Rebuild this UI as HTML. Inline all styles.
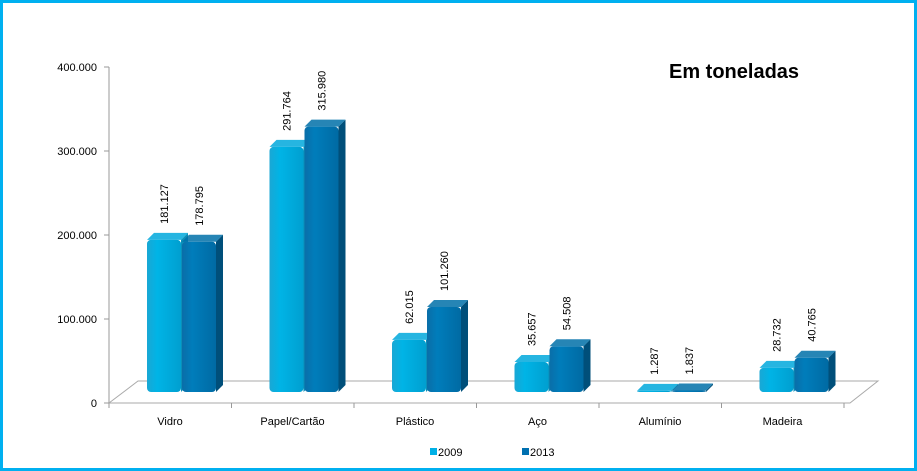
<!DOCTYPE html>
<html><head><meta charset="utf-8"><style>
body{margin:0;background:#fff}
svg{display:block;font-family:"Liberation Sans",sans-serif}
</style></head><body>
<svg width="917" height="471">
<defs>
<linearGradient id="g1" x1="0" x2="1"><stop offset="0" stop-color="#1aa7d4"/><stop offset="0.3" stop-color="#00b4e6"/><stop offset="1" stop-color="#009fd0"/></linearGradient>
<linearGradient id="g2" x1="0" x2="1"><stop offset="0" stop-color="#0a6ea8"/><stop offset="0.3" stop-color="#007dbb"/><stop offset="1" stop-color="#006aa3"/></linearGradient>
</defs>
<rect x="1.5" y="1.5" width="914" height="468" fill="#fff" stroke="#00b0f0" stroke-width="3"/>
<text x="669" y="78" font-size="20" font-weight="bold" fill="#000">Em toneladas</text>
<g id="axes"></g>
<g id="bars"></g>
<g id="legend"></g>
</svg>
<script>
const categories=["Vidro","Papel/Cartão","Plástico","Aço","Alumínio","Madeira"];
const values2009=[181127,291764,62015,35657,1287,28732];
const values2013=[178795,315980,101260,54508,1837,40765];
const yTicks=[0,100000,200000,300000,400000];
const tickLabels=["0","100.000","200.000","300.000","400.000"];
const NS="http://www.w3.org/2000/svg";
function mk(t,a,p){const e=document.createElementNS(NS,t);for(const k in a)e.setAttribute(k,a[k]);p.appendChild(e);return e;}
const yAxis=v=>403-v*84/100000;
const barBase=392;
const hScale=v=>v*0.84/1000;
const catX=i=>170+i*122.5;
const ax=document.getElementById('axes');
let l=mk('line',{x1:109,y1:67,x2:109,y2:403,stroke:'#999'},ax);


mk('polyline',{points:'109,403 138,381 878,381 850,403 109,403',fill:'none',stroke:'#aaa'},ax);
yTicks.forEach((v,i)=>{
  mk('line',{x1:104,y1:yAxis(v),x2:109,y2:yAxis(v),stroke:'#999'},ax);
  const t=mk('text',{x:97,y:yAxis(v)+4,'font-size':11,'text-anchor':'end',fill:'#000'},ax);
  t.textContent=tickLabels[i];
  
  
});
for(let i=0;i<=categories.length;i++){const x=109+i*122.5;mk('line',{x1:x,y1:403,x2:x,y2:408,stroke:'#999'},ax);}
categories.forEach((c,i)=>{
  const t=mk('text',{x:catX(i)+(i==0?0:0),y:425,'font-size':11,'text-anchor':'middle',fill:'#000'},ax);
  t.textContent=c;
  
  
});
const bg=document.getElementById('bars');
function bar(x,v,fill,side,name,label){
  const w=34,d=7,h=Math.max(hScale(v),0);
  const top=barBase-h;
  const g=mk('g',{},bg);
  
  
  mk('path',{d:`M${x+w} ${top} l${d} -${d} v${h} l-${d} ${d} z`,fill:side},g);
  mk('path',{d:`M${x} ${top} l${d} -${d} h${w} l-${d} ${d} z`,fill:fill,opacity:0.85},g);
  mk('rect',{x:x,y:top,width:w,height:h,rx:4,fill:`url(#${fill=='#00a8dc'?'g1':'g2'})`},g);
  const lx=x+w/2+4,ly=top-16;
  const t=mk('text',{x:lx,y:ly,'font-size':11,fill:'#000',transform:`rotate(-90 ${lx} ${ly})`},bg);
  t.textContent=label;
  
  
}
const fmt=v=>(v/1000).toFixed(3);
categories.forEach((c,i)=>{
  bar(catX(i)-23,values2009[i],'#00a8dc','#0b8fb8','bar-2009-'+i,fmt(values2009[i]));
  bar(catX(i)+12,values2013[i],'#0070a8','#004f7a','bar-2013-'+i,fmt(values2013[i]));
});
const lg=document.getElementById('legend');
[["2009","#00b0e6",430],["2013","#0070b0",522]].forEach(([n,c,x])=>{
  const g=mk('g',{},lg);
  
  
  mk('rect',{x:x,y:448,width:7,height:7,fill:c},g);
  const t=mk('text',{x:x+8,y:456,'font-size':11,fill:'#000'},g);
  t.textContent=n;
});
</script>
</body></html>
